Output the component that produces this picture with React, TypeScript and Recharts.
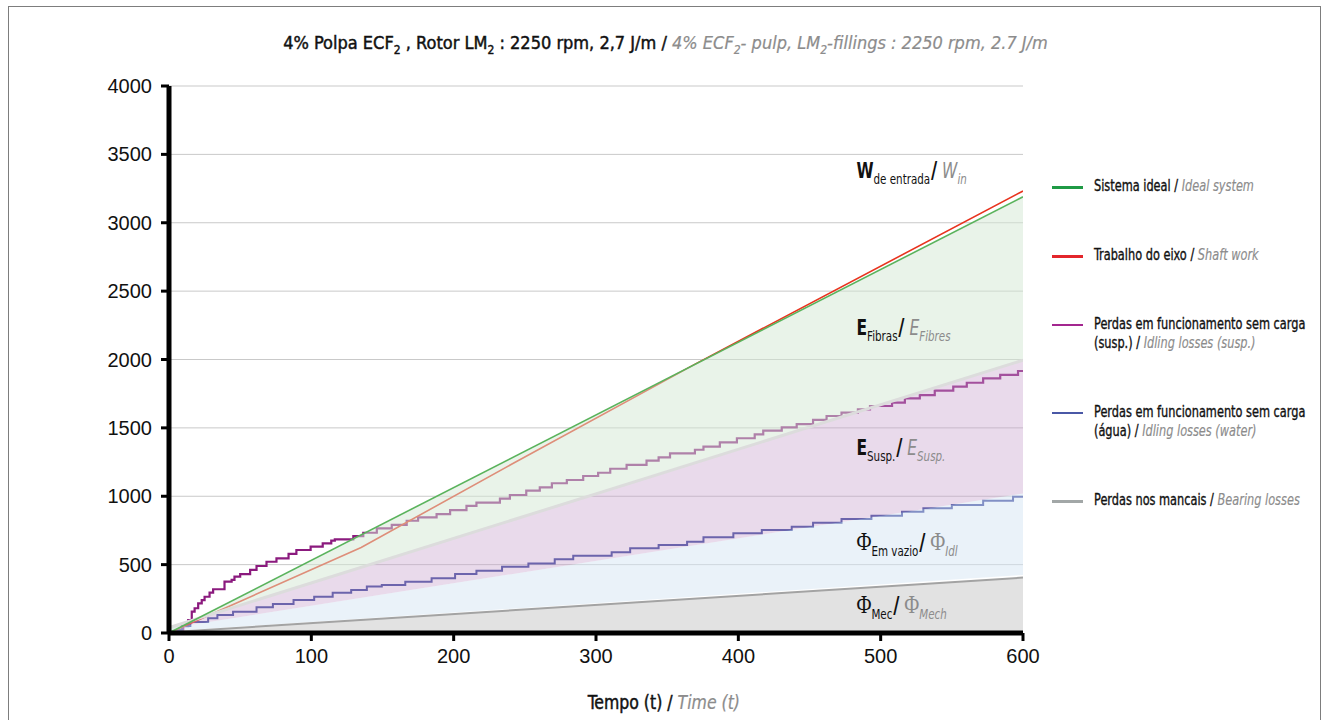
import {
  Area,
  CartesianGrid,
  ComposedChart,
  Line,
  ReferenceDot,
  XAxis,
  YAxis,
} from "recharts";

const NARROW = '"DejaVu Sans Condensed", "Liberation Sans Narrow", sans-serif';
const SANS = '"Liberation Sans", Arial, sans-serif';
const SERIF = '"Liberation Serif", "DejaVu Serif", serif';

const xTicks = [0, 100, 200, 300, 400, 500, 600];
const yTicks = [0, 500, 1000, 1500, 2000, 2500, 3000, 3500, 4000];

// Sistema ideal / Ideal system
const idealT = [0, 600];
const idealW = [0, 3190];

// Trabalho do eixo / Shaft work
const shaftT = [0, 135, 240, 370, 600];
const shaftW = [0, 625, 1230, 1968, 3232];

// Perdas em funcionamento sem carga (susp.) — degraus
const suspT = [
  0, 6, 10, 13.5, 16, 18, 20.5, 23, 25, 28.5, 31, 39, 44, 46, 50, 57, 61.5, 68.5,
  75.5, 84, 89.5, 99.5, 108, 114, 116.5, 129.5, 136.5, 146, 156.5, 167, 175, 188,
  197.5, 209, 216, 232.5, 239.5, 251, 260.5, 269, 279.5, 291, 301.5, 310, 321.5,
  335.5, 344, 352, 369.5, 375.5, 387, 399, 411.5, 417.5, 430.5, 441, 452.5, 462,
  472.5, 484, 492.5, 508, 517, 527.5, 538, 551, 560.5, 572, 584, 596.5, 600,
];
const suspW = [
  0, 22, 50, 95, 156, 181, 217, 241, 265, 295, 320, 375, 388, 412, 431, 461, 490,
  521, 546, 578, 607, 631, 656, 675, 685, 709, 733, 765, 790, 821, 846, 870, 899,
  929, 953, 982, 1009, 1041, 1065, 1095, 1119, 1148, 1172, 1201, 1229, 1260, 1285,
  1314, 1340, 1363, 1394, 1424, 1453, 1480, 1504, 1528, 1558, 1587, 1611, 1636,
  1660, 1684, 1716, 1740, 1772, 1801, 1830, 1862, 1887, 1916, 1916,
];

// Perdas em funcionamento sem carga (água) — degraus
const waterT = [
  0, 5, 9, 15, 27.5, 34, 45, 61.5, 73, 87.5, 102, 115, 128, 139, 149.5, 166, 184.5,
  201, 216, 234, 252.5, 271, 284, 311, 324, 344, 364, 375.5, 396.5, 416.5, 437.5,
  452.5, 472.5, 493.5, 515, 530, 550, 572, 593, 600,
];
const waterW = [
  0, 20, 51, 80, 107, 132, 156, 188, 212, 241, 266, 295, 314, 340, 351, 375, 400,
  431, 456, 485, 509, 539, 565, 590, 619, 644, 668, 700, 729, 753, 777, 807, 834,
  858, 887, 912, 936, 968, 997, 997,
];

// Perdas nos mancais / Bearing losses
const bearingT = [0, 600];
const bearingW = [5, 405];

// faixas sombreadas (limites inferior / superior)
const bandT = [0, 600];
const bandZero = [0, 0];
const bandBearingTop = [12, 425];
const bandWaterTop = [35, 1021];
const bandSuspTop = [40, 1995];
const bandIdealTop = [0, 3190];

// legenda: primeira linha em pt, resto da linha pt antes da barra
const legendPt = [
  "Sistema ideal",
  "Trabalho do eixo",
  "Perdas em funcionamento sem carga",
  "Perdas em funcionamento sem carga",
  "Perdas nos mancais",
];
const legendPt2 = ["", "", "(susp.)", "(água)", ""];
const legendEn = [
  "Ideal system",
  "Shaft work",
  "Idling losses (susp.)",
  "Idling losses (water)",
  "Bearing losses",
];
const legendColors = ["#1f9a45", "#e3262b", "#a3268f", "#4a58a6", "#a2a7a7"];
const legendWidths = [3, 3, 1.5, 1.5, 3];

const labelMain = ["W", "E", "E", "Φ", "Φ"];
const labelSub = ["de entrada", "Fibras", "Susp.", "Em vazio", "Mec"];
const labelEnSub = ["in", "Fibres", "Susp.", "Idl", "Mech"];
const labelT = [483, 483, 483, 483, 483];
const labelV = [3327, 2179, 1302, 607, 146];

const pts = (ts: number[], vs: number[]) => ts.map((t, i) => ({ t, v: vs[i] }));
const band = (ts: number[], lo: number[], hi: number[]) =>
  ts.map((t, i) => ({ t, r: [lo[i], hi[i]] }));

const GRAY = "#8c8c8c";
const BOLDISH = "0.45px";

type LabelProps = { cx?: number; cy?: number; i: number };

function PlotLabel({ cx = 0, cy = 0, i }: LabelProps) {
  const phi = labelMain[i] === "Φ";
  const mainFont = phi ? SERIF : NARROW;
  const mainSize = phi ? 25 : 21;
  return (
    <text
      transform={`translate(${cx},${cy}) scale(0.82,1)`}
      x={0}
      y={0}
      fontFamily={NARROW}
      fill="#111"
    >
      <tspan
        fontFamily={mainFont}
        fontSize={mainSize}
        fontWeight={phi ? "normal" : "bold"}
      >
        {labelMain[i]}
      </tspan>
      <tspan fontSize={14} dy={6}>
        {labelSub[i]}
      </tspan>
      <tspan fontSize={23} dy={-6} dx={1} fontWeight="bold">
        /
      </tspan>
      <tspan
        dx={6}
        fontFamily={mainFont}
        fontSize={mainSize}
        fill={GRAY}
        fontStyle={phi ? "normal" : "italic"}
      >
        {labelMain[i]}
      </tspan>
      <tspan fontSize={14} dy={6} fill={GRAY} fontStyle="italic">
        {labelEnSub[i]}
      </tspan>
    </text>
  );
}

function Sub({ children }: { children: string }) {
  return (
    <span style={{ fontSize: 12, position: "relative", top: 5 }}>{children}</span>
  );
}

function EnPart({ text }: { text: string }) {
  return (
    <span style={{ color: GRAY, fontStyle: "italic", WebkitTextStroke: "0.15px" }}>
      {text}
    </span>
  );
}

export default function App() {
  return (
    <div
      style={{
        position: "absolute",
        left: 8,
        top: 6,
        width: 1313,
        height: 730,
        border: "1px solid #7d7d7d",
        boxSizing: "border-box",
        background: "#fff",
      }}
    >
      <div
        style={{
          position: "absolute",
          top: 25,
          left: 0,
          width: 1313,
          textAlign: "center",
          fontFamily: NARROW,
          fontSize: 18,
          color: "#111",
          whiteSpace: "nowrap",
          WebkitTextStroke: BOLDISH,
        }}
      >
        4% Polpa ECF<Sub>2</Sub> , Rotor LM<Sub>2</Sub> : 2250 rpm, 2,7 J/m /{" "}
        <span style={{ color: GRAY, fontStyle: "italic", WebkitTextStroke: "0.2px" }}>
          4% ECF<Sub>2</Sub>- pulp, LM<Sub>2</Sub>-fillings : 2250 rpm, 2.7 J/m
        </span>
      </div>

      <ComposedChart
        width={1311}
        height={712}
        margin={{ top: 79, right: 297, bottom: 46, left: 0 }}
      >
        <CartesianGrid horizontal vertical={false} stroke="#c9c9c9" />
        <XAxis
          dataKey="t"
          type="number"
          domain={[0, 600]}
          ticks={xTicks}
          allowDataOverflow
          height={40}
          tickSize={8}
          tickMargin={8}
          axisLine={{ stroke: "#000", strokeWidth: 5 }}
          tickLine={{ stroke: "#000", strokeWidth: 3 }}
          tick={{ fontSize: 20, fill: "#111", fontFamily: SANS }}
        />
        <YAxis
          type="number"
          domain={[0, 4000]}
          ticks={yTicks}
          width={160}
          tickSize={8}
          tickMargin={9}
          axisLine={{ stroke: "#000", strokeWidth: 5 }}
          tickLine={{ stroke: "#000", strokeWidth: 3 }}
          tick={{ fontSize: 20, fill: "#111", fontFamily: SANS }}
        />

        <Line
          data={pts(suspT, suspW)}
          dataKey="v"
          type="stepAfter"
          stroke="#8b1a7e"
          strokeWidth={2.2}
          dot={false}
          activeDot={false}
          isAnimationActive={false}
        />
        <Line
          data={pts(waterT, waterW)}
          dataKey="v"
          type="stepAfter"
          stroke="#2f3b96"
          strokeWidth={2}
          dot={false}
          activeDot={false}
          isAnimationActive={false}
        />
        <Line
          data={pts(shaftT, shaftW)}
          dataKey="v"
          type="linear"
          stroke="#e8341f"
          strokeWidth={1.6}
          dot={false}
          activeDot={false}
          isAnimationActive={false}
        />

        <Area
          data={band(bandT, bandZero, bearingW)}
          dataKey="r"
          type="linear"
          stroke="none"
          fill="#c6c6c6"
          fillOpacity={0.5}
          isAnimationActive={false}
          zIndex={450}
        />
        <Area
          data={band(bandT, bandBearingTop, bandWaterTop)}
          dataKey="r"
          type="linear"
          stroke="none"
          fill="#d5e5f4"
          fillOpacity={0.5}
          isAnimationActive={false}
          zIndex={450}
        />
        <Area
          data={band(bandT, bandWaterTop, bandSuspTop)}
          dataKey="r"
          type="linear"
          stroke="none"
          fill="#c9a3cd"
          fillOpacity={0.4}
          isAnimationActive={false}
          zIndex={450}
        />
        <Area
          data={band(bandT, bandSuspTop, bandIdealTop)}
          dataKey="r"
          type="linear"
          stroke="none"
          fill="#d3e7d3"
          fillOpacity={0.5}
          isAnimationActive={false}
          zIndex={450}
        />

        <Line
          data={pts(bandT, bandSuspTop)}
          dataKey="v"
          type="linear"
          stroke="#dcdcdc"
          strokeWidth={3}
          dot={false}
          activeDot={false}
          isAnimationActive={false}
          zIndex={460}
        />
        <Line
          data={pts(bearingT, bearingW)}
          dataKey="v"
          type="linear"
          stroke="#a3a3a3"
          strokeWidth={2}
          dot={false}
          activeDot={false}
          isAnimationActive={false}
          zIndex={460}
        />
        <Line
          data={pts(idealT, idealW)}
          dataKey="v"
          type="linear"
          stroke="#5ab35c"
          strokeWidth={1.6}
          dot={false}
          activeDot={false}
          isAnimationActive={false}
          zIndex={470}
        />

        {labelMain.map((_, i) => (
          <ReferenceDot
            key={i}
            x={labelT[i]}
            y={labelV[i]}
            r={0}
            zIndex={600}
            shape={(p: { cx?: number; cy?: number }) => (
              <PlotLabel cx={p.cx} cy={p.cy} i={i} />
            )}
          />
        ))}
      </ComposedChart>

      <div
        style={{
          position: "absolute",
          left: 1043,
          top: 170,
          width: 300,
          fontFamily: NARROW,
          fontSize: 15,
          lineHeight: "19px",
          color: "#111",
        }}
      >
        {legendPt.map((name, i) => (
          <div
            key={i}
            style={{ position: "relative", paddingLeft: 42, marginBottom: 50 }}
          >
            <div
              style={{
                position: "absolute",
                left: 0,
                top: 10 - legendWidths[i] / 2,
                width: 31,
                height: legendWidths[i],
                background: legendColors[i],
              }}
            />
            <div
              style={{
                whiteSpace: "nowrap",
                transform: "scaleX(0.84)",
                transformOrigin: "left center",
                WebkitTextStroke: "0.35px",
              }}
            >
              {legendPt2[i] ? (
                <>
                  <div>{name}</div>
                  <div>
                    {legendPt2[i]} / <EnPart text={legendEn[i]} />
                  </div>
                </>
              ) : (
                <div>
                  {name} / <EnPart text={legendEn[i]} />
                </div>
              )}
            </div>
          </div>
        ))}
      </div>

      <div
        style={{
          position: "absolute",
          left: 0,
          top: 684,
          width: 1310,
          textAlign: "center",
          fontFamily: NARROW,
          fontSize: 19,
          color: "#111",
        }}
      >
        <span
          style={{
            display: "inline-block",
            transform: "scaleX(0.92)",
            WebkitTextStroke: "0.45px",
          }}
        >
          Tempo (t) /{" "}
          <span style={{ color: GRAY, fontStyle: "italic", WebkitTextStroke: "0.2px" }}>
            Time (t)
          </span>
        </span>
      </div>
    </div>
  );
}
